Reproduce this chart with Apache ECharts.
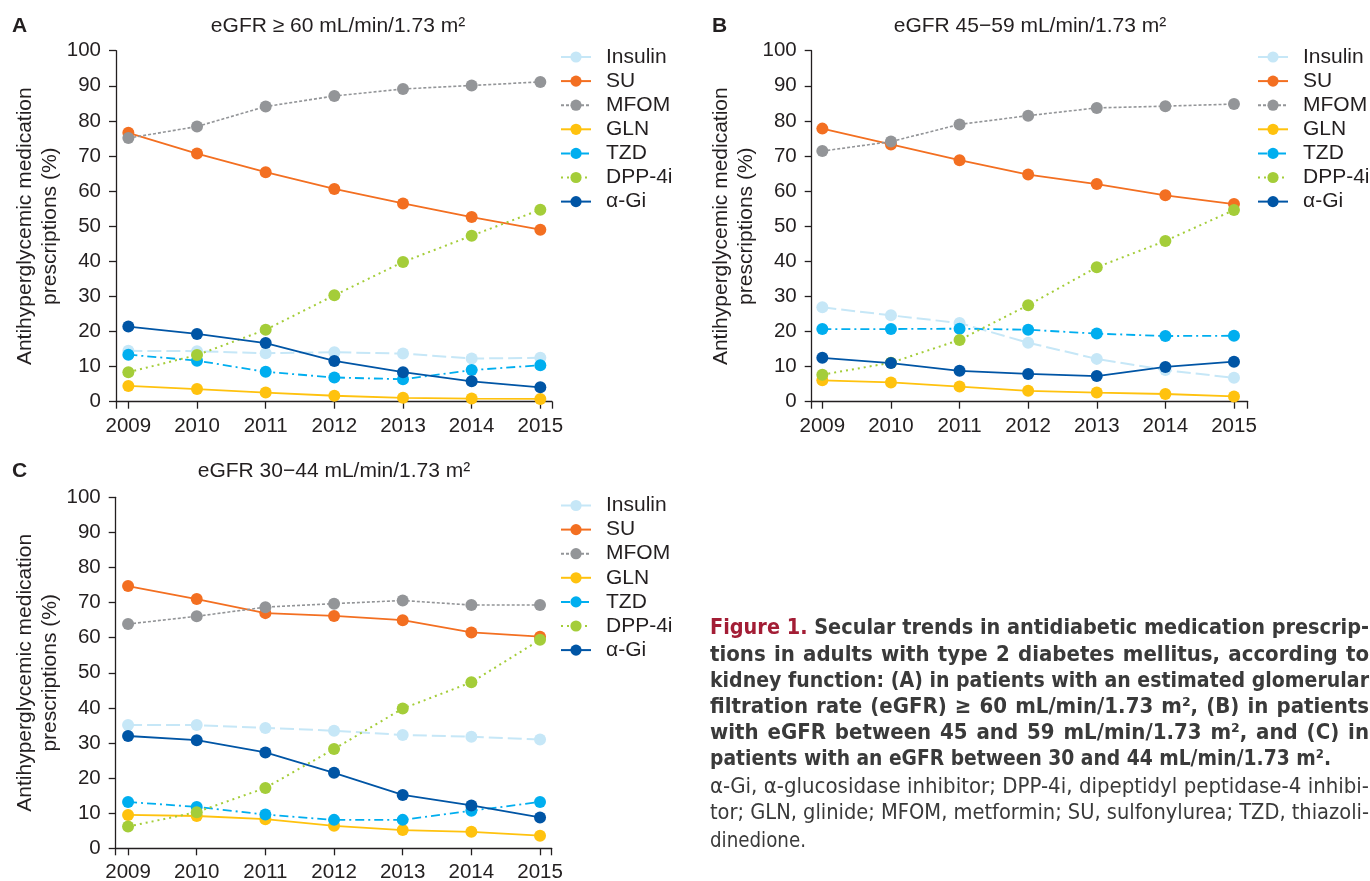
<!DOCTYPE html>
<html><head><meta charset="utf-8">
<script src="https://cdn.jsdelivr.net/npm/echarts@6/dist/echarts.min.js"></script>
<style>
html,body{margin:0;padding:0;background:#fff;}
#wrap{position:relative;width:1370px;height:881px;overflow:hidden;}
#chart{position:absolute;left:0;top:0;width:1370px;height:881px;}
#caption{position:absolute;left:710px;top:0;width:659px;height:881px;font-family:"Liberation Sans Narrow","Arial Narrow","DejaVu Sans Condensed","Liberation Sans",sans-serif;font-size:22px;color:#3a3a3a;}
.ln{position:absolute;left:0;white-space:nowrap;height:26px;line-height:26px;}
.ln span{display:inline-block;transform-origin:0 50%;}
.b{font-weight:bold;}
.red{color:#a31d35;}
</style></head>
<body><div id="wrap"><div id="chart"></div><div id="caption"></div></div>
<script>
// ---- data ----
const years = [2009, 2010, 2011, 2012, 2013, 2014, 2015];
const drugNames = ['Insulin', 'SU', 'MFOM', 'GLN', 'TZD', 'DPP-4i', 'α-Gi'];
const yTicks = [0, 10, 20, 30, 40, 50, 60, 70, 80, 90, 100];

// Panel A: eGFR >= 60
const A_Insulin = [14.5, 14.4, 13.8, 14.1, 13.7, 12.3, 12.5];
const A_SU      = [76.6, 70.7, 65.4, 60.6, 56.5, 52.6, 49.0];
const A_MFOM    = [75.1, 78.4, 84.1, 87.1, 89.1, 90.1, 91.1];
const A_GLN     = [4.5, 3.6, 2.6, 1.7, 1.1, 0.9, 0.8];
const A_TZD     = [13.4, 11.7, 8.5, 6.9, 6.4, 9.0, 10.4];
const A_DPP4i   = [8.4, 13.3, 20.5, 30.3, 39.8, 47.3, 54.7];
const A_aGi     = [21.4, 19.3, 16.7, 11.6, 8.4, 5.8, 4.1];

// Panel B: eGFR 45-59
const B_Insulin = [26.9, 24.6, 22.4, 16.8, 12.2, 9.0, 6.8];
const B_SU      = [77.8, 73.3, 68.8, 64.7, 62.0, 58.8, 56.3];
const B_MFOM    = [71.4, 74.1, 79.0, 81.5, 83.7, 84.2, 84.8];
const B_GLN     = [6.1, 5.5, 4.3, 3.1, 2.6, 2.2, 1.5];
const B_TZD     = [20.7, 20.7, 20.8, 20.5, 19.4, 18.7, 18.8];
const B_DPP4i   = [7.7, 11.1, 17.6, 27.5, 38.3, 45.8, 54.6];
const B_aGi     = [12.5, 11.0, 8.8, 7.9, 7.3, 9.9, 11.4];

// Panel C: eGFR 30-44
const C_Insulin = [35.1, 35.1, 34.3, 33.5, 32.3, 31.8, 31.0];
const C_SU      = [74.7, 71.0, 67.0, 66.2, 65.0, 61.5, 60.3];
const C_MFOM    = [63.9, 66.1, 68.7, 69.7, 70.6, 69.3, 69.3];
const C_GLN     = [9.5, 9.2, 8.3, 6.4, 5.2, 4.7, 3.6];
const C_TZD     = [13.2, 11.8, 9.6, 8.1, 8.1, 10.7, 13.2];
const C_DPP4i   = [6.2, 10.3, 17.2, 28.3, 39.8, 47.3, 59.4];
const C_aGi     = [32.0, 30.8, 27.3, 21.5, 15.2, 12.2, 8.8];

const panelTitles = ['eGFR ≥ 60 mL/min/1.73 m²', 'eGFR 45−59 mL/min/1.73 m²', 'eGFR 30−44 mL/min/1.73 m²'];
const panelLetters = ['A', 'B', 'C'];
const yAxisTitle = 'Antihyperglycemic medication\nprescriptions (%)';

const captionLines = [
  '<span class="red">Figure 1.</span> Secular trends in antidiabetic medication prescrip-',
  'tions in adults with type 2 diabetes mellitus, according to',
  'kidney function: (A) in patients with an estimated glomerular',
  'filtration rate (eGFR) ≥ 60 mL/min/1.73 m², (B) in patients',
  'with eGFR between 45 and 59 mL/min/1.73 m², and (C) in',
  'patients with an eGFR between 30 and 44 mL/min/1.73 m².',
  'α-Gi, α-glucosidase inhibitor; DPP-4i, dipeptidyl peptidase-4 inhibi-',
  'tor; GLN, glinide; MFOM, metformin; SU, sulfonylurea; TZD, thiazoli-',
  'dinedione.'
];

// ---- styles ----
const drugColors = ['#c6e7f7', '#f36f21', '#939598', '#ffc20e', '#00aeef', '#a4cd39', '#0055a5'];
const drugDash = [[14, 5], 'solid', [3, 2], 'solid', [9, 4, 2, 4], [2, 4], 'solid'];
const drugWidth = [2, 1.8, 1.6, 1.8, 1.8, 2, 1.8];
const txt = '#231f20';
const FONT = '"Liberation Sans", Arial, Helvetica, sans-serif';

const panelData = [
  [A_Insulin, A_SU, A_MFOM, A_GLN, A_TZD, A_DPP4i, A_aGi],
  [B_Insulin, B_SU, B_MFOM, B_GLN, B_TZD, B_DPP4i, B_aGi],
  [C_Insulin, C_SU, C_MFOM, C_GLN, C_TZD, C_DPP4i, C_aGi]
];

const grids = [
  {left: 116, top: 50.7, width: 436, height: 351, outerBoundsMode: 'none', containLabel: false},
  {left: 811.7, top: 50.7, width: 436, height: 351, outerBoundsMode: 'none', containLabel: false},
  {left: 115.7, top: 497.3, width: 436, height: 351, outerBoundsMode: 'none', containLabel: false}
];
const xRanges = [[2008.82, 2015.17], [2008.845, 2015.2], [2008.82, 2015.17]];
const legendPos = [{left: 560, top: 46.5}, {left: 1257, top: 46.5}, {left: 560, top: 495}];
const titlePos = [[338, 26], [1030, 26], [334, 471]];
const letterPos = [[12, 26], [712, 26], [12, 471]];

const chart = echarts.init(document.getElementById('chart'), null, {renderer: 'canvas'});

const xAxes = grids.map((g, p) => ({
  type: 'value', gridIndex: p, min: xRanges[p][0], max: xRanges[p][1],
  minInterval: 1, maxInterval: 1,
  axisLine: {show: true, onZero: false, lineStyle: {color: txt, width: 1.3}},
  axisTick: {show: true, length: 7, lineStyle: {color: txt, width: 1.3}},
  splitLine: {show: false},
  axisLabel: {
    fontSize: 20.5, color: txt, fontFamily: FONT, margin: 14,
    formatter: v => (Math.abs(v - Math.round(v)) < 1e-6 && years.indexOf(Math.round(v)) >= 0) ? String(Math.round(v)) : ''
  }
}));
const yAxes = grids.map((g, p) => ({
  type: 'value', gridIndex: p, min: yTicks[0], max: yTicks[yTicks.length - 1], interval: yTicks[1] - yTicks[0],
  axisLine: {show: true, lineStyle: {color: txt, width: 1.3}},
  axisTick: {show: true, length: 7, lineStyle: {color: txt, width: 1.3}},
  splitLine: {show: false},
  axisLabel: {fontSize: 20.5, color: txt, fontFamily: FONT, margin: 15},
  name: yAxisTitle, nameLocation: 'middle', nameRotate: 90, nameGap: 52,
  nameTextStyle: {fontSize: 21, color: txt, fontFamily: FONT, lineHeight: 25}
}));

const series = [];
panelData.forEach((arrs, p) => {
  arrs.forEach((vals, k) => {
    series.push({
      type: 'line', name: drugNames[k], xAxisIndex: p, yAxisIndex: p,
      data: years.map((y, i) => [y, vals[i]]),
      symbol: 'circle', symbolSize: 12, showSymbol: true,
      lineStyle: {color: drugColors[k], width: drugWidth[k], type: drugDash[k]},
      itemStyle: {color: drugColors[k]},
      emphasis: {disabled: true},
      animation: false
    });
  });
});

const legends = legendPos.map(lp => ({
  orient: 'vertical', left: lp.left, top: lp.top, padding: 0,
  itemWidth: 30, itemHeight: 14, itemGap: 3.1, selectedMode: false,
  textStyle: {fontSize: 21, color: txt, fontFamily: FONT, padding: [0, 0, 0, 10]},
  data: drugNames
}));

const graphics = [];
panelTitles.forEach((t, p) => {
  graphics.push({type: 'text', x: titlePos[p][0], y: titlePos[p][1],
    style: {text: t, fill: txt, font: '21px ' + FONT, textAlign: 'center', textVerticalAlign: 'middle'}});
  graphics.push({type: 'text', x: letterPos[p][0], y: letterPos[p][1],
    style: {text: panelLetters[p], fill: txt, font: 'bold 21px ' + FONT, textAlign: 'left', textVerticalAlign: 'middle'}});
});

chart.setOption({
  animation: false,
  backgroundColor: '#fff',
  grid: grids,
  xAxis: xAxes,
  yAxis: yAxes,
  legend: legends,
  series: series,
  graphic: graphics
});

// ---- caption (HTML text) ----
const capY = [627, 654, 680, 706, 732, 758, 786, 812, 840];
const capBold = [true, true, true, true, true, true, false, false, false];
const capJustify = [true, true, true, true, true, false, true, true, false];
const capWidth = [659, 659, 659, 659, 659, 621, 659, 659, 96];
const cap = document.getElementById('caption');
captionLines.forEach((h, i) => {
  const div = document.createElement('div');
  div.className = 'ln' + (capBold[i] ? ' b' : '');
  div.style.top = (capY[i] - 13) + 'px';
  const sp = document.createElement('span');
  sp.innerHTML = h;
  div.appendChild(sp);
  cap.appendChild(div);
  const w = sp.getBoundingClientRect().width;
  const target = capWidth[i];
  if (capJustify[i] && w < target) {
    const n = (sp.textContent.match(/ /g) || []).length;
    sp.style.wordSpacing = ((target - w) / n) + 'px';
  } else {
    sp.style.transform = 'scaleX(' + (target / w) + ')';
  }
});
</script></body></html>
